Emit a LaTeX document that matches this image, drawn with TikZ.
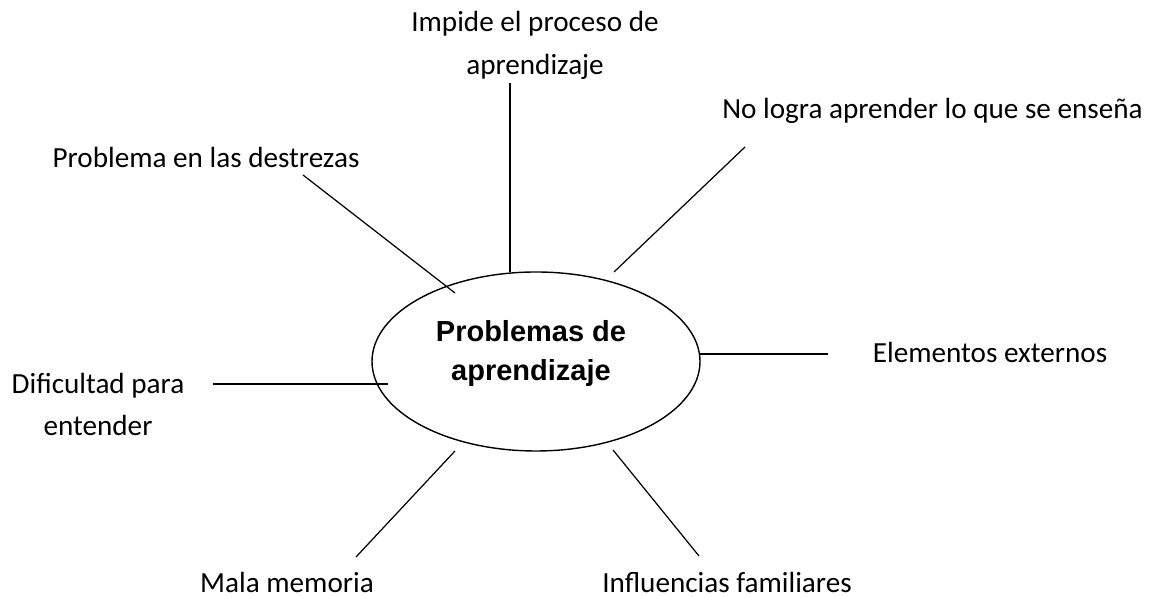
\documentclass[tikz,border=0pt]{standalone}
\usepackage{fontspec}
\setmainfont{Carlito}
\newfontfamily\centrefont{Liberation Sans}
\usepackage{tikz}
\usetikzlibrary{shapes.geometric}

\begin{document}
\begin{tikzpicture}[
	idea/.style={font=\fontsize{16.6}{24.4}\selectfont, align=center, inner sep=0pt},
	centre/.style={draw, ellipse, line width=0.8pt, minimum width=6.56cm, minimum height=3.58cm, inner sep=0pt},
	title/.style={font=\centrefont\bfseries\fontsize{16.5}{22.3}\selectfont, align=center, inner sep=0pt},
	spoke/.style={line width=0.7pt}]
	\useasboundingbox (0,0) rectangle (23.06,11.96);

	\node (p) at (10.72, 4.73) [centre] {};
	\node (ptitle) at (10.62, 4.89) [title] {Problemas de\\aprendizaje};

	\node (impide) at (10.70, 11.05) [idea] {Impide el proceso de\\aprendizaje};
	\node (logra) at (18.65, 9.74) [idea] {No logra aprender lo que se enseña};
	\node (destrezas) at (4.12, 8.82) [idea] {Problema en las destrezas};
	\node (externos) at (19.80, 4.92) [idea] {Elementos externos};
	\node (dificultad) at (1.96, 3.87) [idea] {Dificultad para\\entender};
	\node (memoria) at (5.74, 0.31) [idea] {Mala memoria};
	\node (familia) at (14.54, 0.31) [idea] {Influencias familiares};

	\coordinate (a1) at (10.20, 10.30); \coordinate (a2) at (10.20, 6.52);
	\coordinate (b1) at (14.90, 9.02);  \coordinate (b2) at (12.28, 6.52);
	\coordinate (c1) at (6.06, 8.46);   \coordinate (c2) at (9.10, 6.10);
	\coordinate (d1) at (14.00, 4.88);  \coordinate (d2) at (16.56, 4.88);
	\coordinate (e1) at (4.26, 4.28);   \coordinate (e2) at (7.76, 4.28);
	\coordinate (f1) at (7.12, 0.82);   \coordinate (f2) at (9.10, 2.94);
	\coordinate (g1) at (12.26, 2.96);  \coordinate (g2) at (13.98, 0.84);

	\path[spoke]
		(a1) edge (a2)
		(b1) edge (b2)
		(c1) edge (c2)
		(d1) edge (d2)
		(e1) edge (e2)
		(f1) edge (f2)
		(g1) edge (g2);
\end{tikzpicture}
\end{document}
